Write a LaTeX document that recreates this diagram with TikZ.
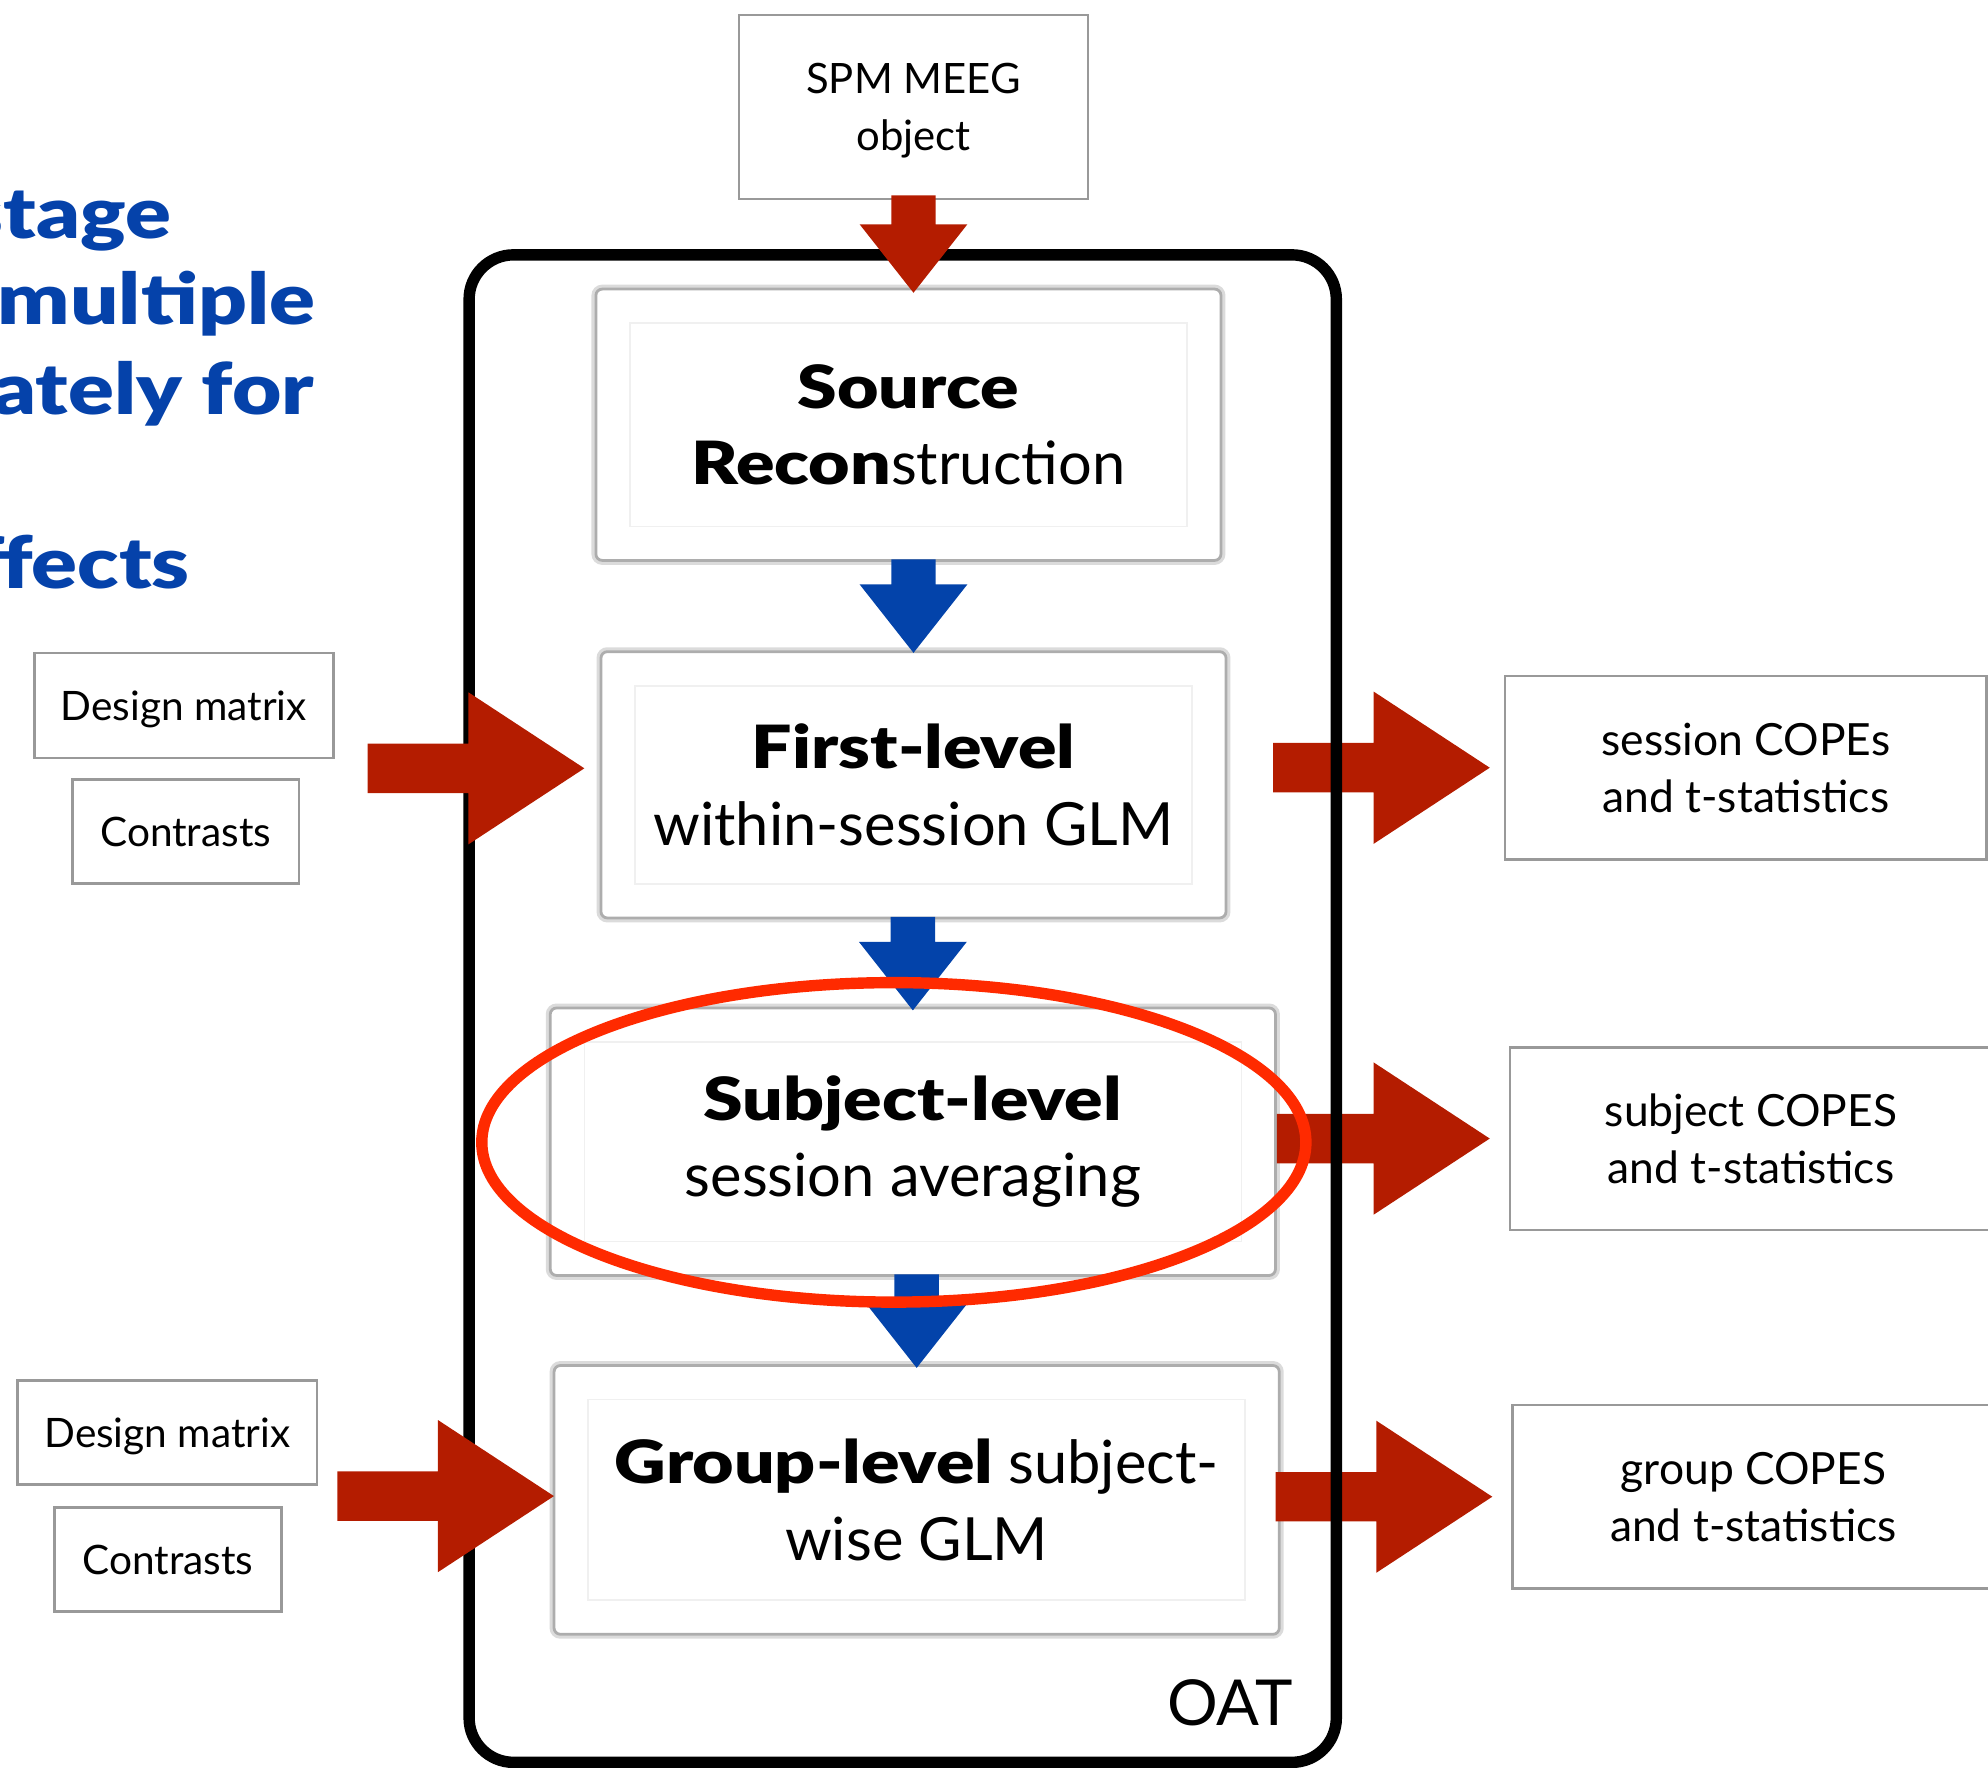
\documentclass[tikz,border=0pt]{standalone}
\usepackage{fontspec}
\IfFontExistsTF{Lato Black}
  {\setmainfont{Lato}[BoldFont={Lato Black}, BoldFeatures={FakeStretch=1.2}]}
  {\setmainfont{Lato}[BoldFeatures={FakeStretch=1.26}]}
\usetikzlibrary{calc}

\definecolor{arrowred}{HTML}{B41C00}
\definecolor{arrowblue}{HTML}{0343AA}
\definecolor{titleblue}{HTML}{0542AA}
\definecolor{ringred}{HTML}{FF2A00}
\definecolor{boxgray}{HTML}{999999}

% block-arrow dimensions
\newlength\vShaft \setlength\vShaft{8.75pt}   % half shaft width, vertical arrows
\newlength\vHead  \setlength\vHead{21.25pt}   % half head width, vertical arrows
\newlength\vTip   \setlength\vTip{27pt}       % head length, vertical arrows
\newlength\hShaft \setlength\hShaft{9.75pt}   % half shaft height, horizontal arrows
\newlength\hHead  \setlength\hHead{30pt}      % half head height, horizontal arrows
\newlength\hTip   \setlength\hTip{45.75pt}    % head length, horizontal arrows

% downward block arrow: shaft starts at the height of #2, tip at #3
\newcommand\blockdown[3]{%
  \fill[#1] let \p1=(#2), \p2=(#3) in
    (\x2-\vShaft,\y1) -- (\x2-\vShaft,\y2+\vTip) -- (\x2-\vHead,\y2+\vTip) -- (\x2,\y2)
    -- (\x2+\vHead,\y2+\vTip) -- (\x2+\vShaft,\y2+\vTip) -- (\x2+\vShaft,\y1) -- cycle;}
% rightward block arrow: shaft starts at the x of #2, tip at #3
\newcommand\blockright[3]{%
  \fill[#1] let \p1=(#2), \p2=(#3) in
    (\x1,\y2+\hShaft) -- (\x2-\hTip,\y2+\hShaft) -- (\x2-\hTip,\y2+\hHead) -- (\x2,\y2)
    -- (\x2-\hTip,\y2-\hHead) -- (\x2-\hTip,\y2-\hShaft) -- (\x1,\y2-\hShaft) -- cycle;}

\tikzset{
  iobox/.style={draw=boxgray, line width=1pt, fill=white, align=center,
    inner sep=0pt, text depth=0pt, font=\fontsize{16.5}{22.5}\selectfont},
  stagebox/.style={draw=black!32, line width=1.1pt, fill=white, rounded corners=2.5pt,
    align=center, inner sep=0pt, minimum height=105.5pt,
    font=\fontsize{23.5}{30}\selectfont,
    preaction={draw=black!14, line width=3.5pt}},
  faint/.style={draw=black!6, line width=0.6pt},
  oatframe/.style={draw=black, line width=4.5pt, rounded corners=17.5pt},
  titletext/.style={anchor=base east, inner sep=0pt, text=titleblue,
    font=\fontsize{28}{34}\selectfont\bfseries},
  ring/.style={draw=ringred, line width=4.5pt},
}

\begin{document}
\begin{tikzpicture}[x=0.5pt, y=-0.5pt]
\useasboundingbox (0,0) rectangle (1568,1394);
\clip (0,0) rectangle (1568,1394);

% slide title, cut at the left edge
\node[titletext] (title1) at (135.5,188) {stage};
\node[titletext] (title2) at (249,256) {multiple};
\node[titletext] (title3) at (248,327) {ately for};
\node[titletext] (title4) at (150,464) {ffects};

% input object
\node[iobox, minimum width=137.5pt, minimum height=72.5pt] (spm) at (720.5,84.5) {SPM MEEG\\object};

% pipeline stages
\node[stagebox, minimum width=246.5pt, minimum height=107pt] (src) at (716.5,335)
  {\textbf{Source}\\\textbf{Recon}struction};
\node[stagebox, minimum width=246.5pt, minimum height=105pt] (first) at (720.5,619)
  {\textbf{First-level}\\within-session GLM};
\node[stagebox, minimum width=286pt] (subj) at (720,900.5)
  {\textbf{Subject-level}\\session averaging};
\node[stagebox, minimum width=286pt, minimum height=106pt] (group) at (723,1183)
  {\textbf{Group-level} subject-\\wise GLM};
\foreach \s in {src,first,subj,group}
  \draw[faint] ([shift={(14pt,-14pt)}]\s.north west) rectangle ([shift={(-14pt,14pt)}]\s.south east);

% design inputs
\node[iobox, font=\fontsize{16}{20}\selectfont, minimum width=118pt, minimum height=41.5pt] (dm1) at (145,556.5) {Design matrix};
\node[iobox, font=\fontsize{16}{20}\selectfont, minimum width=89.5pt, minimum height=41pt] (con1) at (146.5,656) {Contrasts};
\node[iobox, font=\fontsize{16}{20}\selectfont, minimum width=118pt, minimum height=41pt] (dm2) at (132,1130) {Design matrix};
\node[iobox, font=\fontsize{16}{20}\selectfont, minimum width=89.5pt, minimum height=41pt] (con2) at (132.5,1230) {Contrasts};

% outputs
\tikzset{outbox/.style={iobox, font=\fontsize{17.5}{22.5}\selectfont, minimum width=190pt}}
\node[outbox, minimum height=72.5pt] (out1) at (1377,605.5) {session COPEs\\and t-statistics};
\node[outbox, minimum height=72pt] (out2) at (1381,898) {subject COPES\\and t-statistics};
\node[outbox, minimum height=72.5pt] (out3) at (1383,1180.5) {group COPES\\and t-statistics};

% output arrows (under the frame)
\blockright{arrowred}{[xshift=18pt]first.east}{[xshift=-5.5pt]out1.west}
\blockright{arrowred}{subj.east}{[xshift=-7.5pt]out2.west}
\blockright{arrowred}{[xshift=-2pt]group.east}{[xshift=-7.5pt]out3.west}

% OAT frame
\draw[oatframe] (370,201) rectangle (1054,1390);
\node[anchor=base east, inner sep=0pt, font=\fontsize{25}{30}\selectfont] (oat) at (1020,1361) {OAT};

% input arrows
\coordinate (in1) at ($(dm1.north)!0.5!(con1.south)$);
\coordinate (in2) at ($(dm2.north)!0.5!(con2.south)$);
\coordinate (tip1) at (first.west |- in1);
\coordinate (tip2) at (group.west |- in2);
\blockright{arrowred}{[xshift=13pt]dm1.east}{[xshift=-6pt]tip1}
\blockright{arrowred}{[xshift=7.5pt]dm2.east}{[xshift=0.5pt]tip2}

\coordinate (tip0) at (spm.south |- src.north);
\blockdown{arrowred}{[yshift=2pt]spm.south}{[yshift=-2pt]tip0}

% flow between stages
\blockdown{arrowblue}{[yshift=1pt]src.south}{[yshift=-1pt]first.north}
\blockdown{arrowblue}{[yshift=1pt]first.south}{[yshift=-1.5pt]subj.north}
\blockdown{arrowblue}{[yshift=1pt]subj.south}{[yshift=-1.5pt]group.north}

% highlight ring
\draw[ring] (705,901) ellipse [x radius=162.5pt, y radius=63pt];
\end{tikzpicture}
\end{document}
